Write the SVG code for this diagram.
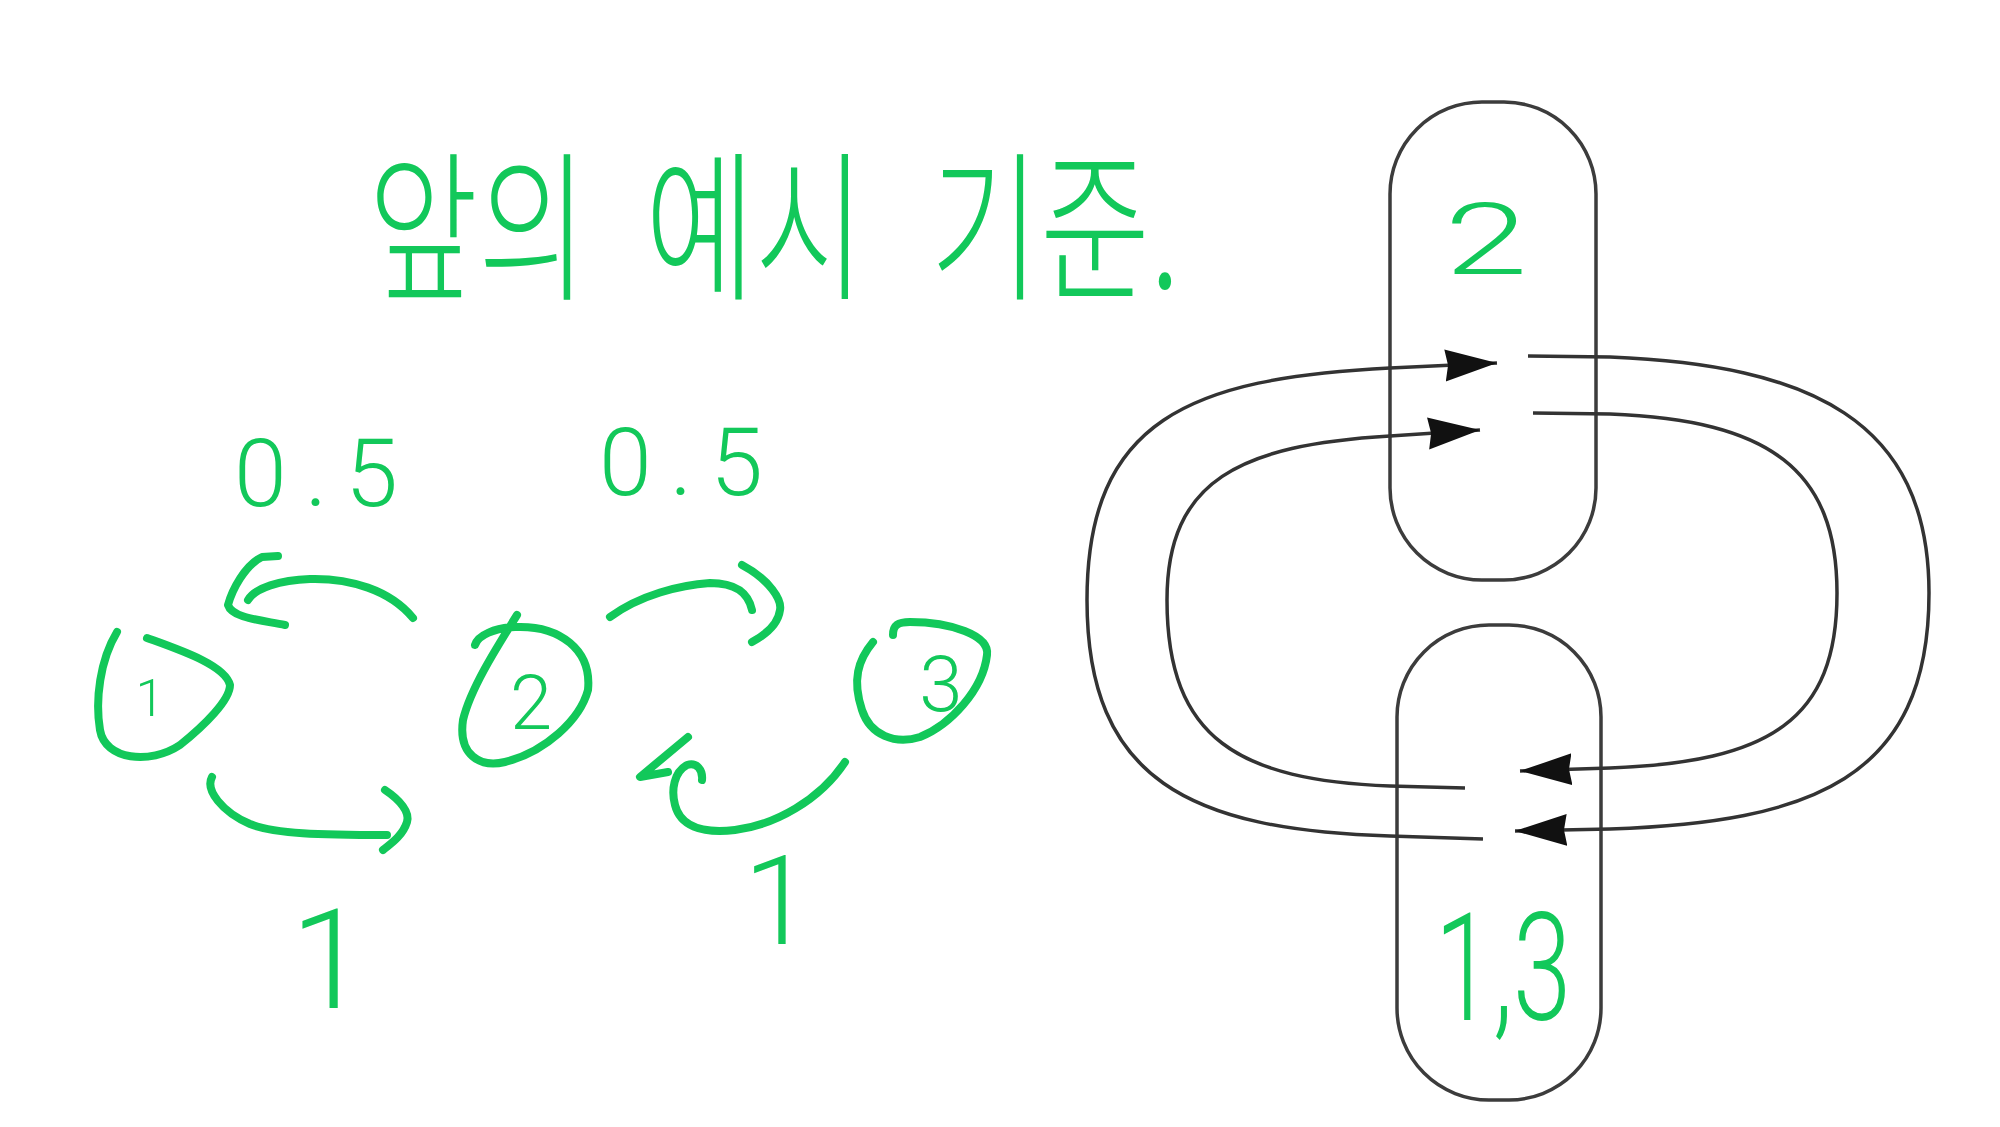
<svg xmlns="http://www.w3.org/2000/svg" width="2000" height="1127" viewBox="0 0 2000 1127">
  <style>
    .ink { fill: none; stroke: #12c85a; stroke-width: 8; stroke-linecap: round; stroke-linejoin: round; }
    .gtxt { fill: #12c85a; font-family: Roboto, "Noto Sans", sans-serif; font-weight: 300; }
    .ktxt { fill: #12c85a; font-family: "Noto Sans CJK KR", "Noto Sans", sans-serif; font-weight: 300; }
    .box { fill: none; stroke: #3c3c3c; stroke-width: 3.5; }
    .wire { fill: none; stroke: #333; stroke-width: 3.5; }
  </style>
  <defs>
    <marker id="tri" markerUnits="userSpaceOnUse" markerWidth="56" markerHeight="34" refX="52" refY="16" orient="auto">
      <path d="M0,0 L52,16 L0,32 L3,16 z" fill="#111"/>
    </marker>
  </defs>
  <rect width="2000" height="1127" fill="#ffffff"/>

  <!-- title -->
  <g id="title">
    <text class="ktxt" font-size="130" transform="translate(368,288) scale(0.92,1.25)">앞의</text>
    <text class="ktxt" font-size="130" transform="translate(645,288) scale(0.92,1.25)">예시</text>
    <text class="ktxt" font-size="130" transform="translate(930,288) scale(0.92,1.25)">기준.</text>
  </g>

  <!-- left graph nodes -->
  <g id="node1">
    <path class="ink" d="M117,632 C100,660 95,700 100,730 C105,760 150,765 180,745 C205,725 230,700 230,685 C225,665 180,650 147,638"/>
    <text class="gtxt" font-size="52" text-anchor="middle" x="150" y="716">1</text>
  </g>
  <g id="node2">
    <path class="ink" d="M517,615 C495,650 470,690 463,720 C458,755 480,768 505,762 C545,752 580,720 588,690 C592,650 560,625 515,627 C495,628 478,635 475,645"/>
    <text class="gtxt" font-size="76" text-anchor="middle" x="531" y="729">2</text>
  </g>
  <g id="node3">
    <path class="ink" d="M893,635 C893,625 898,622 910,622 C950,622 990,635 987,655 C983,690 950,725 920,737 C895,745 870,735 862,710 C852,680 858,660 873,642"/>
    <text class="gtxt" font-size="78" text-anchor="middle" x="941" y="711">3</text>
  </g>

  <!-- right diagram nodes -->
  <g id="box2">
    <rect class="box" x="1390" y="102" width="206" height="478" rx="92" ry="92"/>
    <text class="gtxt" font-size="100" text-anchor="middle" transform="translate(1486,274) scale(1.5,1)">2</text>
  </g>
  <g id="box13">
    <rect class="box" x="1397" y="625" width="204" height="475" rx="92" ry="92"/>
    <text class="gtxt" font-size="150" text-anchor="middle" transform="translate(1503,1020) scale(0.7,1)">1,3</text>
  </g>

  <!-- connectors -->
  <g id="connectors">
    <!-- left graph: 2 -> 1 (0.5) -->
    <path class="ink" d="M413,618 C390,590 350,578 310,579 C280,580 255,588 248,600"/>
    <path class="ink" d="M278,556 L262,557 C245,565 232,590 228,605 C232,618 260,620 285,625"/>
    <!-- 2 -> 3 (0.5) -->
    <path class="ink" d="M610,617 C640,595 680,585 710,583 C735,583 748,592 752,610"/>
    <path class="ink" d="M742,565 C770,580 782,600 780,610 C778,625 765,635 752,642"/>
    <!-- 1 -> 2 (1) -->
    <path class="ink" d="M212,777 C205,790 222,812 250,824 C275,834 320,835 387,835"/>
    <path class="ink" d="M385,790 C400,800 410,812 407,822 C403,835 392,843 383,850"/>
    <!-- 3 -> 2 (1) -->
    <path class="ink" d="M845,762 C820,800 775,825 735,830 C700,834 680,825 675,805 C671,790 674,772 687,765 C697,762 703,770 702,780"/>
    <path class="ink" d="M688,737 L640,777 L668,772"/>

    <!-- right diagram -->
    <path class="wire" marker-end="url(#tri)" d="M1483,839 L1390,836 C1190,830 1087,780 1087,600 C1087,420 1190,378 1390,368 L1497,363"/>
    <path class="wire" marker-end="url(#tri)" d="M1465,788 L1390,786 C1240,780 1167,740 1167,600 C1167,480 1240,445 1390,436 L1480,430"/>
    <path class="wire" marker-end="url(#tri)" d="M1528,356 L1610,357 C1810,365 1929,420 1929,593 C1929,780 1810,822 1610,829 L1515,831"/>
    <path class="wire" marker-end="url(#tri)" d="M1533,413 L1610,414 C1770,420 1837,470 1837,593 C1837,720 1770,762 1610,768 L1520,771"/>
  </g>

  <!-- edge labels -->
  <g id="labels">
    <text class="gtxt" font-size="95" letter-spacing="18" text-anchor="middle" x="325" y="506">0.5</text>
    <text class="gtxt" font-size="95" letter-spacing="18" text-anchor="middle" x="690" y="495">0.5</text>
    <text class="gtxt" font-size="140" text-anchor="middle" x="329" y="1008">1</text>
    <text class="gtxt" font-size="125" text-anchor="middle" x="778" y="944">1</text>
  </g>
</svg>
